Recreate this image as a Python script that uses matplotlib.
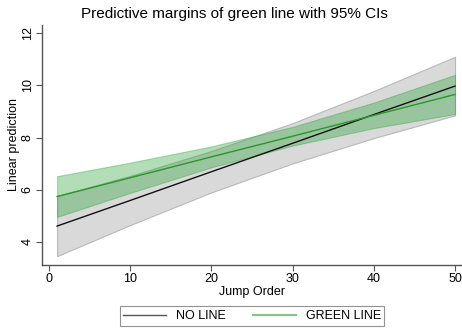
import numpy as np
import matplotlib
matplotlib.use('Agg')
import matplotlib.pyplot as plt
from matplotlib.lines import Line2D

plt.rcParams['font.family'] = ['Liberation Sans', 'DejaVu Sans']

# margins
jump_order = [1, 10, 20, 30, 40, 50]

no_line = [4.61, 5.59, 6.69, 7.78, 8.88, 9.97]
no_line_lo = [3.46, 4.65, 5.90, 7.01, 7.98, 8.85]
no_line_hi = [5.76, 6.53, 7.48, 8.55, 9.78, 11.09]

green_line = [5.74, 6.46, 7.26, 8.05, 8.85, 9.65]
green_line_lo = [4.96, 5.88, 6.86, 7.69, 8.36, 8.90]
green_line_hi = [6.52, 7.04, 7.66, 8.41, 9.34, 10.40]

x_ticks = [0, 10, 20, 30, 40, 50]
y_ticks = [4, 6, 8, 10, 12]
series_names = ['NO LINE', 'GREEN LINE']

fig = plt.figure(figsize=(4.62, 3.29), dpi=100)
ax = fig.add_axes([0.0909, 0.1954, 0.9091, 0.7287])

x = np.array(jump_order)
ax.fill_between(x, no_line_lo, no_line_hi, facecolor='#d9d9d9',
                edgecolor='#b8b8b8', linewidth=0.8, zorder=1)
ax.fill_between(x, green_line_lo, green_line_hi, facecolor=(35/255, 160/255, 49/255, 0.35),
                edgecolor=(35/255, 160/255, 49/255, 0.35), linewidth=0.8, zorder=2)
ax.plot(x, no_line, color='#111111', linewidth=1.0, zorder=3)
ax.plot(x, green_line, color='#2a962a', linewidth=1.0, zorder=4)

ax.set_xlim(-0.86, 50.86)
ax.set_ylim(3.13, 12.31)
ax.set_xticks(x_ticks)
ax.set_yticks(y_ticks)
ax.set_yticklabels([str(v) for v in y_ticks], rotation=90, va='center')

for s in ['top', 'right']:
    ax.spines[s].set_visible(False)
for s in ['left', 'bottom']:
    ax.spines[s].set_color('#555555')
    ax.spines[s].set_linewidth(1.0)
ax.tick_params(axis='both', direction='out', length=4, width=0.8, color='#555555',
               labelsize=9, pad=2)

ax.set_xlabel('Jump Order', fontsize=9, labelpad=1)
ax.set_ylabel('Linear prediction', fontsize=9, labelpad=1)

fig.text(234 / 462, 1 - 14 / 329, 'Predictive margins of green line with 95% CIs',
         ha='center', va='center', fontsize=11)

handles = [Line2D([0], [0], color='#555555', linewidth=1.0),
           Line2D([0], [0], color='#80c880', linewidth=1.5)]
leg = fig.legend(handles, series_names, loc='center', bbox_to_anchor=(252 / 462, 1 - 316 / 329),
                 ncol=2, fontsize=9, frameon=True, fancybox=False, handlelength=3.4,
                 columnspacing=2.2, borderpad=0.3, handletextpad=0.8)
leg.get_frame().set_edgecolor('#777777')
leg.get_frame().set_linewidth(0.8)

fig.savefig('out.png', dpi=100)
